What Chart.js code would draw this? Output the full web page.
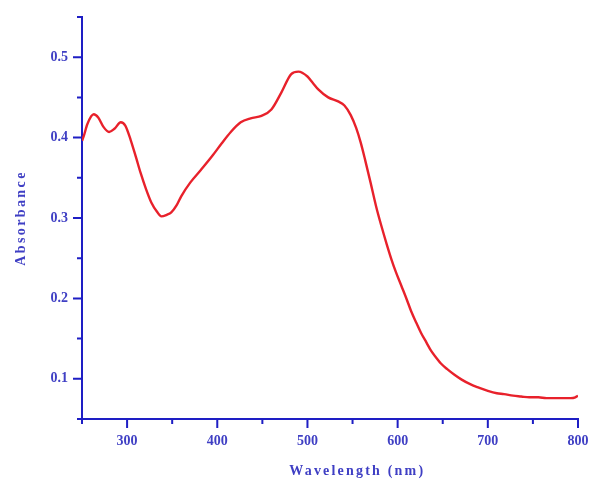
<!DOCTYPE html>
<html>
<head>
<meta charset="utf-8">
<script src="https://cdn.jsdelivr.net/npm/chart.js@4/dist/chart.umd.min.js"></script>
<style>
html,body{margin:0;padding:0;background:#fff;}
#wrap{position:relative;width:592px;height:484px;}
</style>
</head>
<body>
<div id="wrap"><canvas id="c" width="592" height="484"></canvas></div>
<script>
const wavelength = [250,252,256,263,268,274,280,286,293,298,304,310,315,321,327,333,338,344,349,355,360,370,382,395,405,415,426,437,449,460,471,482,490,500,506,512,523,534,541,548,554,559,564,570,576,582,588,593,598,604,610,615,621,626,632,637,643,648,655,663,671,681,690,700,710,718,728,737,746,756,765,773,782,792,797,800];
const absorbance = [0.396,0.402,0.417,0.429,0.425,0.413,0.407,0.411,0.419,0.415,0.397,0.375,0.356,0.336,0.319,0.308,0.302,0.304,0.307,0.316,0.327,0.344,0.360,0.378,0.393,0.407,0.419,0.424,0.427,0.435,0.456,0.479,0.482,0.476,0.468,0.460,0.450,0.445,0.440,0.428,0.412,0.394,0.372,0.344,0.315,0.290,0.267,0.249,0.233,0.216,0.199,0.184,0.169,0.157,0.145,0.135,0.126,0.119,0.112,0.105,0.099,0.093,0.089,0.085,0.082,0.081,0.079,0.078,0.077,0.077,0.076,0.076,0.076,0.076,0.077,0.079];
const xMajorTicks = [300,400,500,600,700,800];
const yMajorTicks = [0.1,0.2,0.3,0.4,0.5];
const xTitle = 'Wavelength (nm)';
const yTitle = 'Absorbance';

const AXIS = '#1e1ec4';
const TEXT = '#3f3fc4';
const FONT = '"Liberation Serif", "Times New Roman", serif';

const points = wavelength.map((w,i)=>({x:w, y:absorbance[i]}));

function isMajor(v, list){ return list.some(m => Math.abs(m - v) < 1e-6); }

const tickPlugin = {
  id: 'ticksAndTitles',
  afterDraw(chart){
    const ctx = chart.ctx;
    const xs = chart.scales.x, ys = chart.scales.y;
    const area = chart.chartArea;
    ctx.save();
    ctx.strokeStyle = AXIS;
    ctx.lineWidth = 2;
    ctx.beginPath();
    ys.ticks.forEach(t => {
      const p = ys.getPixelForValue(t.value);
      const len = isMajor(t.value, yMajorTicks) ? 9 : 5;
      ctx.moveTo(area.left, p); ctx.lineTo(area.left - len, p);
    });
    xs.ticks.forEach(t => {
      const p = xs.getPixelForValue(t.value);
      const len = isMajor(t.value, xMajorTicks) ? 9 : 5;
      ctx.moveTo(p, area.bottom); ctx.lineTo(p, area.bottom + len);
    });
    ctx.stroke();
    ctx.fillStyle = TEXT;
    ctx.font = 'bold 14px ' + FONT;
    ctx.textAlign = 'center';
    ctx.textBaseline = 'middle';
    try { ctx.letterSpacing = '2.2px'; } catch(e) {}
    ctx.fillText(xTitle, area.left + (area.right - area.left) * 0.555, 471);
    ctx.translate(21, (area.top + area.bottom) / 2);
    ctx.rotate(-Math.PI / 2);
    try { ctx.letterSpacing = '2.4px'; } catch(e) {}
    ctx.fillText(yTitle, 0, 0);
    ctx.restore();
  }
};

new Chart(document.getElementById('c'), {
  type: 'line',
  data: {
    datasets: [{
      data: points,
      borderColor: '#e8212b',
      borderWidth: 2.4,
      pointRadius: 0,
      fill: false,
      tension: 0.4,
      cubicInterpolationMode: 'monotone'
    }]
  },
  options: {
    responsive: false,
    animation: false,
    events: [],
    layout: { padding: { top: 17, right: 14, left: 0, bottom: 0 } },
    plugins: { legend: { display: false }, tooltip: { enabled: false } },
    scales: {
      x: {
        type: 'linear',
        min: 250, max: 800,
        afterFit(s){ s.height = 65; s.paddingLeft = 0; s.paddingRight = 0; },
        border: { display: true, color: AXIS, width: 2 },
        grid: { display: false, drawTicks: false },
        ticks: {
          stepSize: 50,
          padding: 14,
          maxRotation: 0,
          autoSkip: false,
          color: TEXT,
          font: { family: FONT, size: 14, weight: 'bold' },
          callback: v => isMajor(v, xMajorTicks) ? String(v) : ''
        }
      },
      y: {
        type: 'linear',
        min: 0.05, max: 0.55,
        afterFit(s){ s.width = 82; s.paddingTop = 0; s.paddingBottom = 0; },
        border: { display: true, color: AXIS, width: 2 },
        grid: { display: false, drawTicks: false },
        ticks: {
          stepSize: 0.05,
          padding: 14,
          autoSkip: false,
          color: TEXT,
          font: { family: FONT, size: 14, weight: 'bold' },
          callback: v => isMajor(v, yMajorTicks) ? v.toFixed(1) : ''
        }
      }
    }
  },
  plugins: [tickPlugin]
});
</script>
</body>
</html>
